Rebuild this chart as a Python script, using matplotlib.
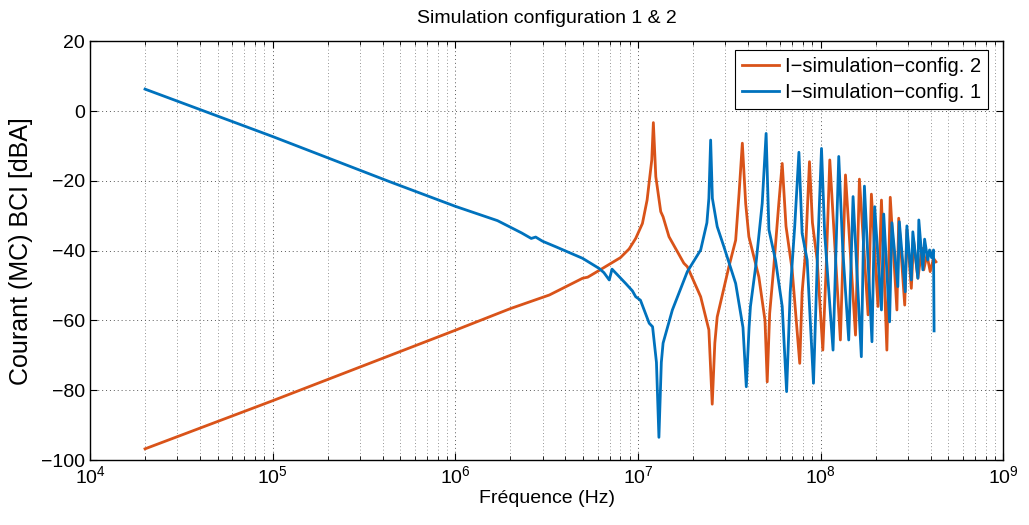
import numpy as np
import matplotlib
matplotlib.use("Agg")
import matplotlib.pyplot as plt
from matplotlib.ticker import LogLocator, NullFormatter, MultipleLocator

plt.rcParams['font.family'] = ['Liberation Sans', 'DejaVu Sans']
plt.rcParams['mathtext.fontset'] = 'custom'
plt.rcParams['mathtext.rm'] = 'Liberation Sans'

# config 2 (orange) : frequence [Hz], courant [dBA]
freq_cfg2 = [2e4, 1e5, 1e6, 2e6, 3.27e6, 4.4e6, 4.97e6, 5.3e6, 6.38e6, 8.0e6,
             8.93e6, 9.7e6, 1.056e7, 1.12e7, 1.188e7, 1.212e7, 1.25e7, 1.33e7,
             1.37e7, 1.476e7, 1.78e7, 1.86e7, 2.2e7, 2.44e7, 2.545e7, 2.63e7,
             2.71e7, 3.14e7, 3.42e7, 3.57e7, 3.72e7, 3.88e7, 4.04e7, 4.58e7,
             4.95e7, 5.09e7, 5.25e7, 5.53e7, 5.89e7, 6.15e7, 6.45e7, 6.97e7,
             7.67e7, 7.9e7, 8.24e7, 8.67e7, 9.0e7, 9.55e7, 1.026e8, 1.07e8,
             1.12e8, 1.28e8, 1.365e8, 1.549e8, 1.627e8, 1.815e8, 1.892e8,
             2.056e8, 2.148e8, 2.3e8, 2.40e8, 2.61e8, 2.67e8, 2.88e8, 2.96e8,
             3.13e8, 3.22e8, 3.40e8, 3.58e8, 3.66e8, 3.81e8, 3.97e8, 4.14e8,
             4.27e8]
db_cfg2 = [-96.8, -83.0, -62.8, -56.6, -52.7, -49.3, -47.9, -47.6, -45.1, -42.0,
           -39.5, -36.5, -32.2, -25.5, -14.0, -3.3, -18.8, -28.8,
           -30.3, -36.0, -43.6, -44.6, -53.2, -62.7, -84.0, -66.5,
           -59.0, -44.6, -37.0, -23.6, -9.2, -26.5, -36.0, -47.5,
           -60.0, -77.6, -58.0, -44.6, -26.5, -15.0, -33.0, -45.5,
           -72.3, -52.0, -40.8, -14.5, -32.0, -42.7, -68.5, -45.0,
           -14.0, -65.6, -18.3, -64.2, -19.5, -58.4, -23.8,
           -56.0, -25.5, -68.5, -24.7, -57.0, -30.7, -55.6, -34.0,
           -50.8, -37.0, -47.9, -39.3, -45.5, -41.2, -46.0, -42.2,
           -43.2]

# config 1 (bleu)
freq_cfg1 = [2e4, 1e5, 4.35e5, 1e6, 1.7e6, 2.3e6, 2.6e6, 2.75e6, 3.0e6, 3.55e6,
             4.97e6, 6.12e6, 6.5e6, 6.95e6, 7.2e6, 8.55e6, 9.3e6, 9.7e6, 1.03e7,
             1.15e7, 1.2e7, 1.26e7, 1.30e7, 1.34e7, 1.37e7, 1.54e7, 1.86e7,
             2.2e7, 2.38e7, 2.44e7, 2.495e7, 2.55e7, 2.71e7, 2.95e7, 3.42e7,
             3.75e7, 3.91e7, 4.05e7, 4.12e7, 4.4e7, 4.78e7, 5.02e7, 5.2e7,
             5.65e7, 6.15e7, 6.5e7, 6.8e7, 7.2e7, 7.59e7, 7.9e7, 8.42e7,
             9.12e7, 9.6e7, 1.009e8, 1.05e8, 1.167e8, 1.254e8, 1.32e8, 1.422e8,
             1.502e8, 1.667e8, 1.733e8, 1.906e8, 1.972e8, 2.148e8, 2.21e8,
             2.38e8, 2.45e8, 2.64e8, 2.69e8, 2.9e8, 2.96e8, 3.13e8, 3.19e8,
             3.40e8, 3.44e8, 3.62e8, 3.70e8, 3.85e8, 3.94e8, 4.04e8, 4.14e8,
             4.17e8]
db_cfg1 = [6.3, -7.3, -20.2, -27.3, -31.4, -34.9, -36.5, -36.1, -37.3, -38.9,
           -42.2, -45.1, -46.3, -48.4, -45.3, -49.4, -51.5, -53.2, -54.2,
           -60.8, -61.8, -72.0, -93.5, -72.0, -66.5, -57.0, -46.0,
           -39.8, -32.0, -25.0, -8.3, -25.0, -33.1, -38.9, -49.4,
           -62.0, -79.0, -62.0, -56.0, -44.6, -26.4, -6.4, -34.0,
           -42.7, -56.0, -80.4, -52.0, -33.0, -11.8, -35.0, -42.7,
           -78.0, -40.8, -10.7, -35.0, -68.5, -13.0, -40.0, -65.6,
           -24.5, -70.4, -21.5, -66.1, -27.4, -57.0, -29.5,
           -60.4, -32.0, -50.3, -31.7, -51.8, -32.9, -48.4, -34.6,
           -47.9, -31.2, -45.5, -36.7, -42.7, -39.8, -42.0, -39.8,
           -63.0]

fig = plt.figure(figsize=(10.29, 5.25), dpi=100)
ax = fig.add_axes([0.0875, 0.1238, 0.8877, 0.7975])

ax.semilogx(freq_cfg2, db_cfg2, color='#D95319', lw=2.0, label='I\u2212simulation\u2212config. 2')
ax.semilogx(freq_cfg1, db_cfg1, color='#0072BD', lw=2.0, label='I\u2212simulation\u2212config. 1')

ax.set_xlim(1e4, 1e9)
ax.set_ylim(-100, 20)
ax.yaxis.set_major_locator(MultipleLocator(20))
ax.xaxis.set_major_locator(LogLocator(base=10, numticks=10))
ax.xaxis.set_minor_locator(LogLocator(base=10, subs=np.arange(2, 10), numticks=20))
ax.xaxis.set_minor_formatter(NullFormatter())

ax.grid(True, which='major', linestyle=(0, (1, 3)), color='0.35', lw=0.7)
ax.grid(True, which='minor', axis='x', linestyle=(0, (1, 3)), color='0.45', lw=0.6)

ax.tick_params(which='both', direction='in', top=True, right=True, labelsize=14)
ax.tick_params(which='major', length=5)
ax.tick_params(which='minor', length=3)
for s in ax.spines.values():
    s.set_linewidth(1.0)

ax.set_title('Simulation configuration 1 & 2', fontsize=14, pad=13)
ax.set_xlabel('Fréquence (Hz)', fontsize=14, labelpad=2)
ax.set_ylabel('Courant (MC) BCI [dBA]', fontsize=18, labelpad=6)

leg = ax.legend(loc='upper right', bbox_to_anchor=(0.983, 0.979), borderaxespad=0,
                fontsize=14.5, fancybox=False, framealpha=1, edgecolor='black',
                handlelength=1.8, borderpad=0.35, labelspacing=0.35, handletextpad=0.3)
leg.get_frame().set_linewidth(0.8)

fig.savefig('out.png', dpi=100)
